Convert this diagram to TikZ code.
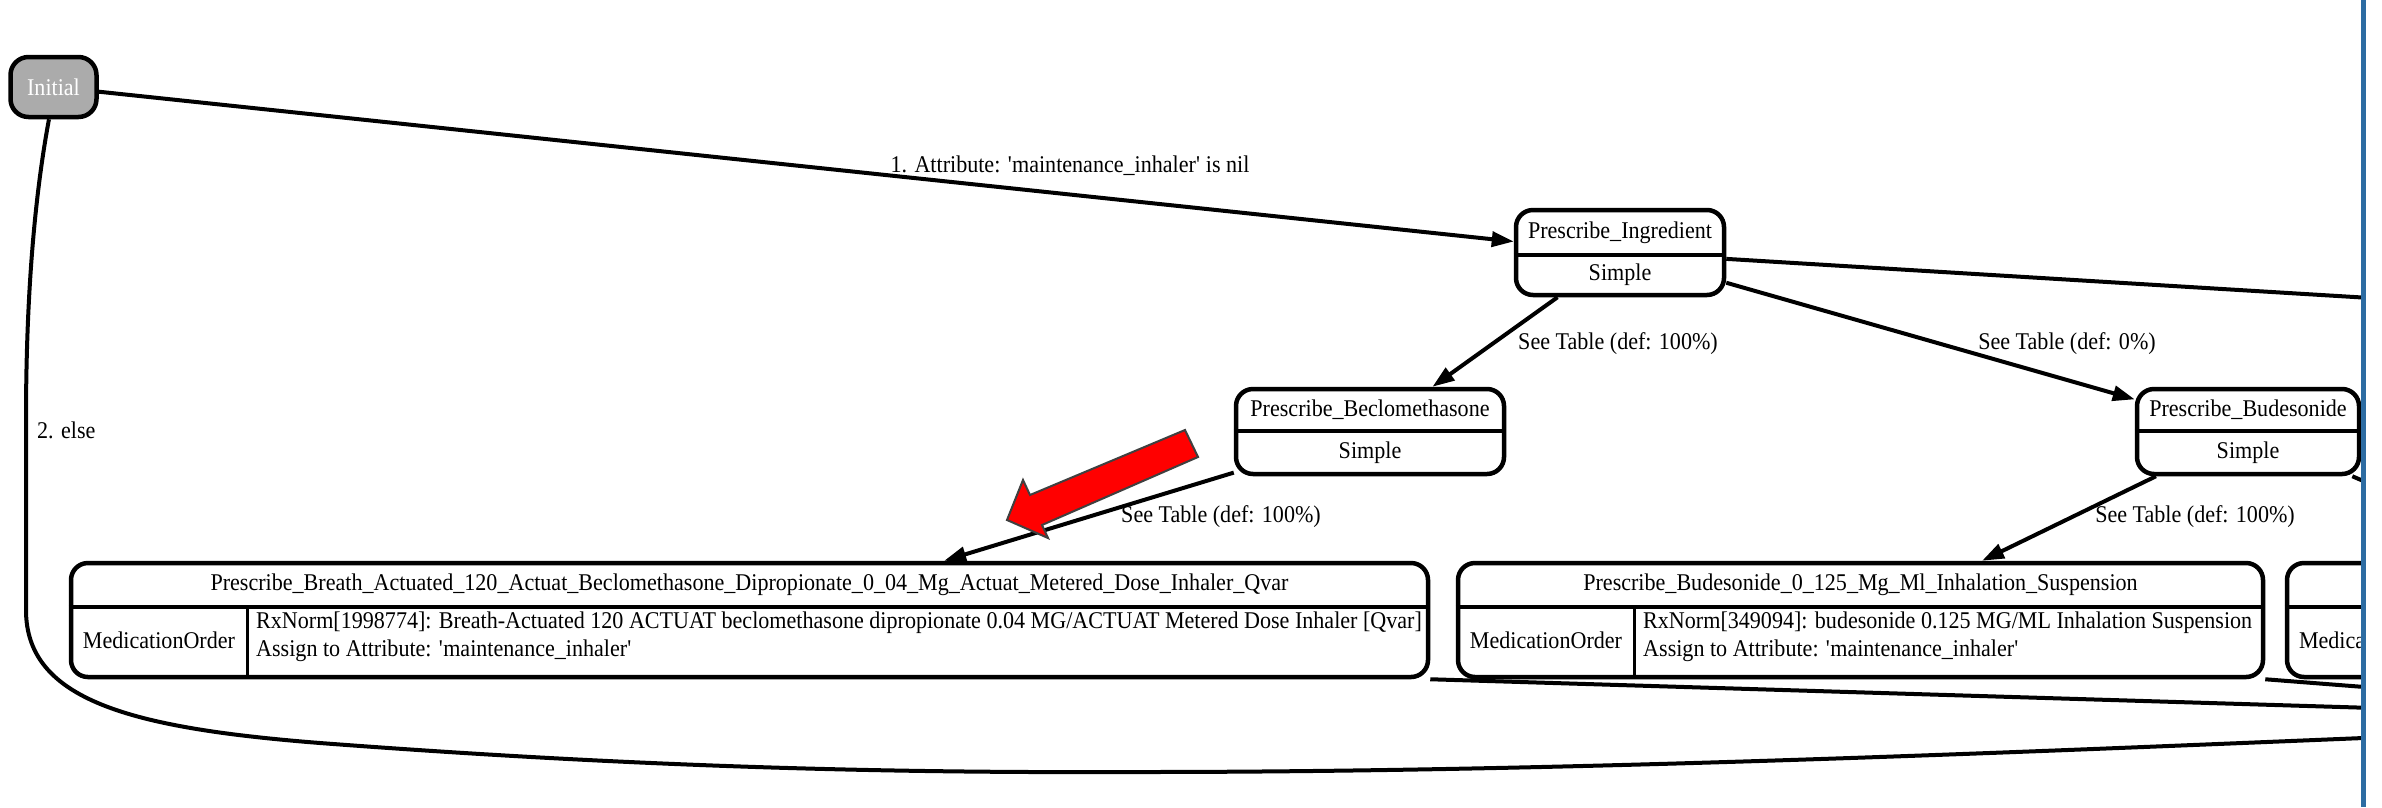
\documentclass[tikz,border=0pt]{standalone}
\usepackage{fontspec}
\setmainfont{Liberation Serif}[FakeStretch=0.92]
\usetikzlibrary{arrows.meta}
\definecolor{initgray}{HTML}{ABABAB}
\definecolor{frameblue}{HTML}{2D6CA2}
\definecolor{pointerred}{HTML}{FF0000}
\definecolor{pointeredge}{HTML}{404040}

\begin{document}
\begin{tikzpicture}[x=1pt,y=-1pt,
  txt/.style={font=\rmfamily\fontsize{24}{28}\selectfont, inner sep=0pt},
  statebox/.style={draw, line width=4.5pt, rounded corners=17pt, fill=white},
  initbox/.style={draw, line width=4.5pt, rounded corners=18pt, fill=initgray},
  divider/.style={line width=4pt},
  coldivider/.style={line width=3pt},
  edge/.style={line width=4pt, -{Triangle[length=22pt,width=15pt]}},
  plainedge/.style={line width=4pt},
  pointer/.style={fill=pointerred, draw=pointeredge, line width=2pt, line join=miter}
]
\useasboundingbox (0,0) rectangle (2382,807);
\fill[white] (0,0) rectangle (2382,807);

\begin{scope}
\clip (0,0) rectangle (2361,807);

% far-away targets of the outgoing connectors
\coordinate (done) at (2800,721);
\coordinate (farIng) at (2700,318);
\coordinate (farBud) at (2700,452);

% state nodes
\node[initbox, minimum width=86pt, minimum height=60pt] (init) at (53.5,87) {};
\node[txt, text=white] (initT) at (53.5,87) {Initial};

\node[statebox, minimum width=208pt, minimum height=85pt] (ing) at (1620,252.5) {};
\node[statebox, minimum width=268pt, minimum height=85pt] (becl) at (1370,431.5) {};
\node[statebox, minimum width=222pt, minimum height=85pt] (bud) at (2248,431.5) {};

\node[statebox, minimum width=1357pt, minimum height=114pt] (box1) at (749.5,620) {};
\node[statebox, minimum width=805pt, minimum height=114pt] (box2) at (1860.5,620) {};
\node[statebox, minimum width=800pt, minimum height=114pt] (box3) at (2687,620) {};

% header / body dividers
\draw[divider] (ing.west |- 0,255) -- (ing.east |- 0,255);
\draw[divider] (becl.west |- 0,431) -- (becl.east |- 0,431);
\draw[divider] (bud.west |- 0,431) -- (bud.east |- 0,431);
\draw[divider] (box1.west |- 0,607) -- (box1.east |- 0,607);
\draw[divider] (box2.west |- 0,607) -- (box2.east |- 0,607);
\draw[divider] (box3.west |- 0,607) -- (box3.east |- 0,607);
\draw[coldivider] (247,607) -- (247,0 |- box1.south);
\draw[coldivider] (1634,607) -- (1634,0 |- box2.south);

% texts of the state nodes
\node[txt] (ingT) at (1620,233) {Prescribe\_Ingredient};
\node[txt] (ingS) at (1620,275) {Simple};
\node[txt] (beclT) at (1370,410) {Prescribe\_Beclomethasone};
\node[txt] (beclS) at (1370,453) {Simple};
\node[txt] (budT) at (2248,410) {Prescribe\_Budesonide};
\node[txt] (budS) at (2248,453) {Simple};

\node[txt] (box1T) at (749.5,585) {Prescribe\_Breath\_Actuated\_120\_Actuat\_Beclomethasone\_Dipropionate\_0\_04\_Mg\_Actuat\_Metered\_Dose\_Inhaler\_Qvar};
\node[txt] (box1L) at (159,640) {MedicationOrder};
\node[txt, anchor=west, align=left] (box1R) at (256,637) {RxNorm[1998774]: Breath-Actuated 120 ACTUAT beclomethasone dipropionate 0.04 MG/ACTUAT Metered Dose Inhaler [Qvar]\\Assign to Attribute: \textquotesingle maintenance\_inhaler\textquotesingle};

\node[txt] (box2T) at (1860.5,585) {Prescribe\_Budesonide\_0\_125\_Mg\_Ml\_Inhalation\_Suspension};
\node[txt] (box2L) at (1546,640) {MedicationOrder};
\node[txt, anchor=west, align=left] (box2R) at (1643,637) {RxNorm[349094]: budesonide 0.125 MG/ML Inhalation Suspension\\Assign to Attribute: \textquotesingle maintenance\_inhaler\textquotesingle};

\node[txt] (box3L) at (2375,640) {MedicationOrder};

% connectors
\draw[edge] (init) -- (ing);
\draw[edge] (ing) -- (becl);
\draw[edge] (ing) -- (bud);
\draw[edge] (becl) -- (box1);
\draw[edge] (bud) -- (box2);
\draw[plainedge] (ing) -- (farIng);
\draw[plainedge] (bud) -- (box3);
\draw[plainedge] (bud) -- (farBud);
\draw[plainedge] (box1.south east) -- (done);
\draw[plainedge] (box2.south east) -- (done);
\draw[plainedge] (init.262) .. controls (34,200) and (26,300) .. (26,420)
  -- (26,610) .. controls (26,700) and (130,728) .. (320,743)
  .. controls (650,768) and (900,773) .. (1140,772)
  .. controls (1700,772) and (2300,738) .. (done);

% connector labels
\node[txt] (lbl1) at (1070,166) {1. Attribute: \textquotesingle maintenance\_inhaler\textquotesingle{} is nil};
\node[txt, anchor=west] (lbl2) at (37,430) {2. else};
\node[txt] (lbl3) at (1618,344) {See Table (def: 100\%)};
\node[txt] (lbl4) at (2067,344) {See Table (def: 0\%)};
\node[txt] (lbl5) at (1221,517) {See Table (def: 100\%)};
\node[txt] (lbl6) at (2195,517) {See Table (def: 100\%)};

% red pointer arrow
\draw[pointer] (1007,520) -- (1023,480) -- (1030,495) -- (1185,430)
  -- (1198,457) -- (1042,525) -- (1048,538) -- cycle;
\end{scope}

% blue frame edge on the right
\fill[frameblue] (2361,0) rectangle (2366,807);
\end{tikzpicture}
\end{document}
